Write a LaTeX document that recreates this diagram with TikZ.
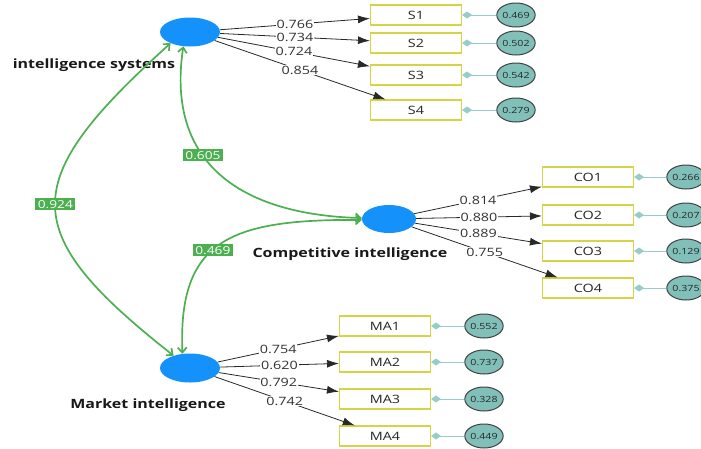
\documentclass[tikz,border=0pt]{standalone}
\usepackage{fontspec}
\setmainfont[FakeStretch=1.25]{Open Sans}
\usetikzlibrary{arrows.meta,shapes.geometric}
\definecolor{latblue}{RGB}{20,145,250}
\definecolor{boxyel}{RGB}{212,212,70}
\definecolor{semgreen}{RGB}{76,175,80}
\definecolor{errfill}{RGB}{128,192,185}
\definecolor{errcol}{RGB}{150,205,200}
\definecolor{darkline}{RGB}{40,40,40}
\begin{document}
\begin{tikzpicture}[x=1pt,y=-1pt,
 latent/.style={ellipse, fill=latblue, minimum width=60pt, minimum height=29pt, inner sep=0pt},
 obs/.style={rectangle, draw=boxyel, line width=1.1pt, fill=white, minimum width=91pt, minimum height=20pt, inner sep=0pt, font=\fontsize{11.5}{12}\selectfont, text=black!85},
 err/.style={ellipse, draw=black!75, line width=1pt, fill=errfill, minimum width=38pt, minimum height=24pt, inner sep=0pt, font=\fontsize{8.5}{9}\selectfont, text=black!85},
 load/.style={draw=darkline, line width=0.8pt, -{Latex[length=12pt,width=8pt]}},
 loadlab/.style={fill=white, inner sep=0.8pt, font=\fontsize{11.5}{12}\selectfont, text=black!80},
 errarrow/.style={draw=errcol, line width=1pt, -{Diamond[length=10pt,width=7pt]}},
 cov/.style={draw=semgreen, line width=1.7pt, {Straight Barb[length=5pt,width=9pt]}-{Straight Barb[length=5pt,width=9pt]}},
 covlab/.style={fill=semgreen, text=white, inner xsep=2.5pt, inner ysep=2pt, font=\fontsize{11}{12}\selectfont},
 latlab/.style={font=\bfseries\fontsize{12.8}{14}\selectfont, text=black!90}
]
\useasboundingbox (0,0) rectangle (701,448);

% latent variables
\node[latent] (IS) at (190,32) {};
\node[latent, minimum width=54pt, minimum height=28pt] (CI) at (389,219) {};
\node[latent] (MI) at (190,368) {};

\node[latlab] (ISl) at (94,65) {intelligence systems};
\node[latlab] (CIl) at (350,254) {Competitive intelligence};
\node[latlab] (MIl) at (148,405) {Market intelligence};

% indicators
\node[obs] (S1) at (416,15) {S1};
\node[obs] (S2) at (416,43) {S2};
\node[obs] (S3) at (416,75) {S3};
\node[obs] (S4) at (416,110) {S4};

\node[obs] (CO1) at (588,177) {CO1};
\node[obs] (CO2) at (588,215) {CO2};
\node[obs] (CO3) at (588,251) {CO3};
\node[obs] (CO4) at (588,288) {CO4};

\node[obs] (MA1) at (385,326) {MA1};
\node[obs] (MA2) at (385,362) {MA2};
\node[obs] (MA3) at (385,399) {MA3};
\node[obs] (MA4) at (385,436) {MA4};

% error terms
\node[err] (eS1) at (516,15) {0.469};
\node[err] (eS2) at (516,43) {0.502};
\node[err] (eS3) at (516,75) {0.542};
\node[err] (eS4) at (516,110) {0.279};

\node[err] (eCO1) at (686,177) {0.266};
\node[err] (eCO2) at (686,215) {0.207};
\node[err] (eCO3) at (686,251) {0.129};
\node[err] (eCO4) at (686,288) {0.375};

\node[err] (eMA1) at (484,326) {0.552};
\node[err] (eMA2) at (484,362) {0.737};
\node[err] (eMA3) at (484,399) {0.328};
\node[err] (eMA4) at (484,436) {0.449};

\foreach \i in {1,2,3,4}{
  \draw[errarrow] (eS\i) -- (S\i);
  \draw[errarrow] (eCO\i) -- (CO\i);
  \draw[errarrow] (eMA\i) -- (MA\i);
}

% loadings
\draw[load] (IS) -- node[loadlab]{0.766} (S1);
\draw[load] (IS) -- node[loadlab]{0.734} (S2);
\draw[load] (IS) -- node[loadlab]{0.724} (S3);
\draw[load] (IS) -- node[loadlab]{0.854} (S4);

\draw[load] (CI) -- node[loadlab]{0.814} (CO1);
\draw[load] (CI) -- node[loadlab]{0.880} (CO2);
\draw[load] (CI) -- node[loadlab]{0.889} (CO3);
\draw[load] (CI) -- node[loadlab]{0.755} (CO4);

\draw[load] (MI) -- node[loadlab]{0.754} (MA1);
\draw[load] (MI) -- node[loadlab]{0.620} (MA2);
\draw[load] (MI) -- node[loadlab]{0.792} (MA3);
\draw[load] (MI) -- node[loadlab]{0.742} (MA4);

% covariances
\draw[cov] (MI.143) .. controls (15,231) and (18,181) .. node[covlab,pos=0.5]{0.924} (IS.210);
\draw[cov] (IS.245) .. controls (165,170) and (250,215) .. node[covlab,pos=0.38]{0.605} (CI.178);
\draw[cov] (CI.182) .. controls (230,219) and (178,240) .. node[covlab,pos=0.55]{0.469} (MI.118);
\end{tikzpicture}
\end{document}
